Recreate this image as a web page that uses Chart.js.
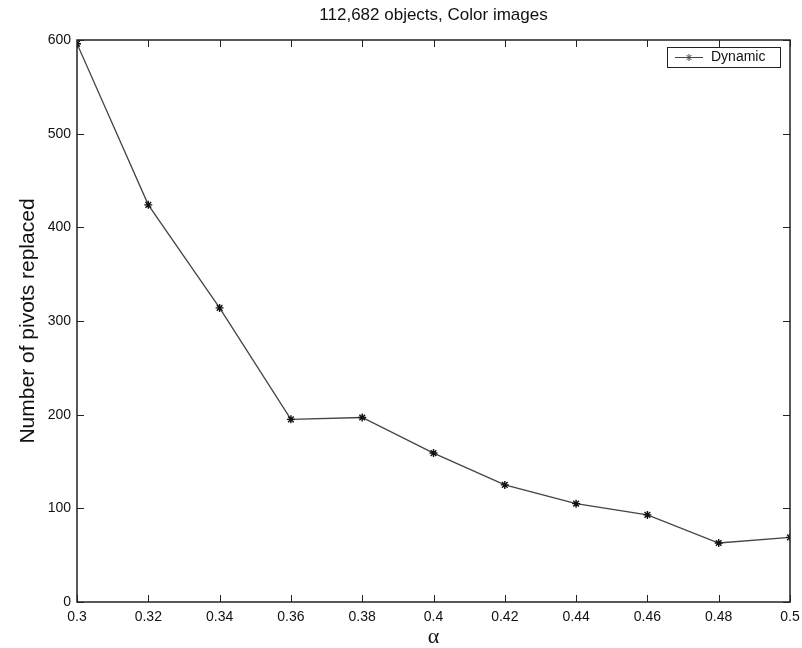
<!DOCTYPE html>
<html>
<head>
<meta charset="utf-8">
<script src="https://cdn.jsdelivr.net/npm/chart.js@4/dist/chart.umd.min.js"></script>
<style>
  html, body { margin: 0; padding: 0; background: #fff; }
  #wrap { width: 802px; height: 648px; }
</style>
</head>
<body>
<div id="wrap"><canvas id="lineChart" width="802" height="648"></canvas></div>
<script>
var alphas = [0.3, 0.32, 0.34, 0.36, 0.38, 0.4, 0.42, 0.44, 0.46, 0.48, 0.5];
var dynamicValues = [596, 424, 314, 195, 197, 159, 125, 105, 93, 63, 69];
var xTicks = [0.3, 0.32, 0.34, 0.36, 0.38, 0.4, 0.42, 0.44, 0.46, 0.48, 0.5];
var yTicks = [0, 100, 200, 300, 400, 500, 600];

var chartTitle = '112,682 objects, Color images';
var seriesName = 'Dynamic';
var font = 'Liberation Sans, Arial, Helvetica, sans-serif';

// box, inward ticks on all four sides, title and legend (matlab look)
var framePlugin = {
    id: 'frame',
    afterDatasetsDraw: function(chart) {
        var ctx = chart.ctx, a = chart.chartArea;
        var xs = chart.scales.x, ys = chart.scales.y;
        ctx.save();
        ctx.strokeStyle = '#222';
        ctx.lineWidth = 1.5;
        ctx.strokeRect(a.left, a.top, a.right - a.left, a.bottom - a.top);
        ctx.lineWidth = 1;
        ctx.beginPath();
        xTicks.forEach(function(v) {
            var px = Math.round(xs.getPixelForValue(v)) + 0.5;
            ctx.moveTo(px, a.bottom); ctx.lineTo(px, a.bottom - 7);
            ctx.moveTo(px, a.top); ctx.lineTo(px, a.top + 7);
        });
        yTicks.forEach(function(v) {
            var py = Math.round(ys.getPixelForValue(v)) + 0.5;
            ctx.moveTo(a.left, py); ctx.lineTo(a.left + 7, py);
            ctx.moveTo(a.right, py); ctx.lineTo(a.right - 7, py);
        });
        ctx.stroke();

        // title
        ctx.fillStyle = '#111';
        ctx.font = '17px ' + font;
        ctx.textAlign = 'center';
        ctx.textBaseline = 'middle';
        ctx.fillText(chartTitle, (a.left + a.right) / 2, 15);

        // legend box in the top right corner
        var lw = 113, lh = 20;
        var lx = a.right - 10 - lw, ly = a.top + 7;
        ctx.fillStyle = '#fff';
        ctx.fillRect(lx, ly, lw, lh);
        ctx.strokeStyle = '#222';
        ctx.strokeRect(lx + 0.5, ly + 0.5, lw, lh);
        var cy = ly + lh / 2 + 0.5;
        ctx.strokeStyle = '#444';
        ctx.beginPath();
        ctx.moveTo(lx + 8, cy); ctx.lineTo(lx + 36, cy);
        ctx.stroke();
        Chart.helpers.drawPoint(ctx, { pointStyle: 'star', radius: 3.5, borderWidth: 1.3 }, lx + 22, cy);
        ctx.fillStyle = '#111';
        ctx.font = '14px ' + font;
        ctx.textAlign = 'left';
        ctx.fillText(seriesName, lx + 44, cy);
        ctx.restore();
    }
};

var ctx = document.getElementById('lineChart').getContext('2d');
var lineChart = new Chart(ctx, {
    type: 'line',
    data: {
        datasets: [{
            label: seriesName,
            data: alphas.map(function(a, i) { return { x: a, y: dynamicValues[i] }; }),
            borderColor: '#444',
            borderWidth: 1.3,
            pointStyle: 'star',
            pointRadius: 4,
            pointBorderWidth: 1.4,
            pointBorderColor: '#111',
            pointBackgroundColor: '#111',
            tension: 0,
            fill: false
        }]
    },
    options: {
        responsive: false,
        animation: false,
        layout: { padding: { top: 40, right: 12, left: 0, bottom: 0 } },
        plugins: {
            legend: { display: false },
            title: { display: false },
            tooltip: { enabled: false }
        },
        scales: {
            x: {
                type: 'linear',
                min: 0.3,
                max: 0.5,
                grid: { display: false, drawTicks: false },
                border: { display: false },
                afterBuildTicks: function(scale) {
                    scale.ticks = xTicks.map(function(v) { return { value: v }; });
                },
                afterFit: function(scale) {
                    scale.height = 46;
                    scale.paddingLeft = 0;
                    scale.paddingRight = 0;
                },
                ticks: {
                    color: '#111',
                    font: { family: font, size: 14 },
                    padding: 7,
                    maxRotation: 0,
                    autoSkip: false,
                    callback: function(v) { return String(parseFloat(Number(v).toFixed(2))); }
                },
                title: {
                    display: true,
                    text: 'α',
                    color: '#111',
                    font: { family: 'Liberation Serif, Times New Roman, serif', size: 22, lineHeight: 1 },
                    padding: { top: 0, bottom: 0 }
                }
            },
            y: {
                min: 0,
                max: 600,
                grid: { display: false, drawTicks: false },
                border: { display: false },
                afterBuildTicks: function(scale) {
                    scale.ticks = yTicks.map(function(v) { return { value: v }; });
                },
                afterFit: function(scale) {
                    scale.width = 77;
                    scale.paddingTop = 0;
                    scale.paddingBottom = 0;
                },
                ticks: {
                    color: '#111',
                    font: { family: font, size: 14 },
                    padding: 6
                },
                title: {
                    display: true,
                    text: 'Number of pivots replaced',
                    color: '#111',
                    font: { family: font, size: 21 },
                    padding: { top: 16, bottom: 0 }
                }
            }
        }
    },
    plugins: [framePlugin]
});
</script>
</body>
</html>
